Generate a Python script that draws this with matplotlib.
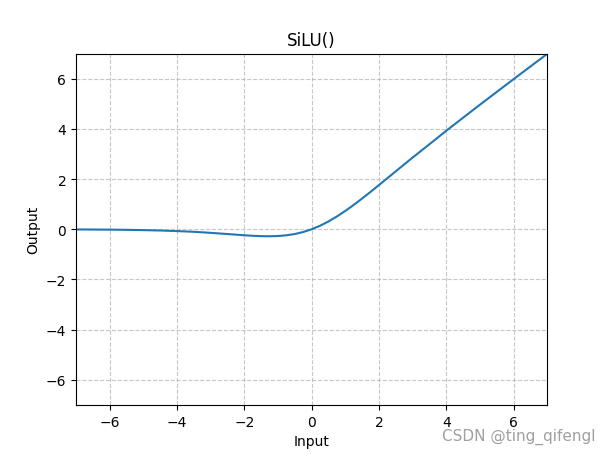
import matplotlib
matplotlib.use('Agg')
import matplotlib.pyplot as plt

# points
x_in = [-7, -6.5, -6, -5.5, -5, -4.5, -4, -3.5, -3, -2.5, -2, -1.75, -1.5, -1.25, -1,
        -0.75, -0.5, -0.25, 0, 0.25, 0.5, 0.75, 1, 1.25, 1.5, 1.75, 2, 2.5, 3, 3.5,
        4, 5, 6, 7]
y_out = [-0.006, -0.010, -0.015, -0.022, -0.034, -0.049, -0.072, -0.100, -0.142, -0.190,
         -0.238, -0.260, -0.274, -0.278, -0.269, -0.240, -0.189, -0.110, 0.0, 0.140,
         0.311, 0.510, 0.731, 0.970, 1.226, 1.490, 1.762, 2.310, 2.858, 3.390,
         3.928, 4.966, 5.985, 6.994]

fig = plt.figure(figsize=(6.08, 4.56), dpi=100)
ax = fig.add_subplot(111)
ax.plot(x_in, y_out)
ax.set_xlim(-7, 7)
ax.set_ylim(-7, 7)
ax.set_title('SiLU()')
ax.set_xlabel('Input')
ax.set_ylabel('Output')
ax.grid(True, linestyle='--', alpha=0.7)
fig.text(0.98, 0.025, 'CSDN @ting_qifengl', ha='right', va='bottom', fontsize=11, color='#a0a0a0')
fig.savefig('out.png', dpi=100)
